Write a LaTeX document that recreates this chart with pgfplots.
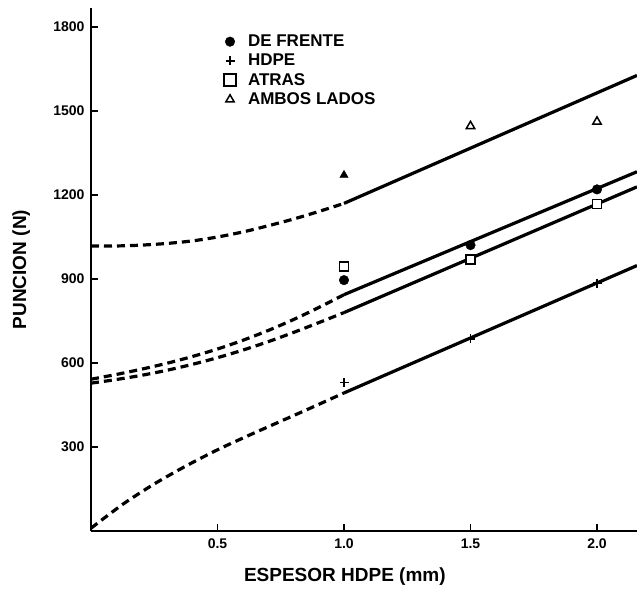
\documentclass[border=0pt]{standalone}
\usepackage{pgfplots}
\pgfplotsset{compat=1.18}
\usepackage{fontspec}
\setmainfont{Liberation Sans}
\begin{document}
\begin{tikzpicture}
\useasboundingbox (-91pt,-66pt) rectangle (546pt,531pt);
\begin{axis}[
  at={(0pt,0pt)}, anchor=origin,
  x=253pt, y=0.28pt,
  xmin=0, xmax=2.158, ymin=0, ymax=1868,
  axis lines=left, axis line style={-, line width=2.6pt},
  xtick={0.5,1,1.5,2}, xticklabels={0.5,1.0,1.5,2.0},
  ytick={300,600,900,1200,1500,1800}, yticklabels={300,600,900,1200,1500,1800},
  tick align=inside, major tick length=7pt, tick style={line width=1.8pt, black},
  /pgf/number format/assume math mode=true,
  ticklabel style={font=\fontsize{14}{16}\selectfont\bfseries},
  xticklabel style={yshift=-4pt},
  yticklabel style={xshift=-3pt},
  xlabel={ESPESOR HDPE (mm)}, ylabel={PUNCION (N)},
  label style={font=\fontsize{19}{22}\selectfont\bfseries},
  xlabel style={at={(axis description cs:0.465,-0.088)}, anchor=center},
  ylabel style={at={(axis description cs:-0.128,0.5)}, anchor=center},
  legend style={at={(axis cs:0.525,1779)}, anchor=north west, draw=none, fill=none,
    font=\fontsize{17}{19}\selectfont\bfseries, row sep=2pt, inner sep=0pt,
    /tikz/every odd column/.append style={column sep=10pt}},
  legend cell align=left,
  clip=true,
]
% AMBOS LADOS curve
\addplot[black, line width=3.2pt, dash pattern=on 8pt off 5pt, smooth, forget plot]
  coordinates {(0,1018)(0.1,1018)(0.2,1021)(0.3,1027)(0.4,1036)(0.5,1050)(0.6,1068)(0.7,1090)(0.8,1114)(0.9,1141)(1.0,1170)};
\addplot[black, line width=3.2pt, forget plot]
  coordinates {(1.0,1170)(2.158,1627)};
% DE FRENTE curve
\addplot[black, line width=3.2pt, dash pattern=on 8pt off 5pt, smooth, forget plot]
  coordinates {(0,542)(0.1,559)(0.2,578)(0.3,599)(0.4,623)(0.5,650)(0.6,681)(0.7,716)(0.8,755)(0.9,798)(1.0,844)};
\addplot[black, line width=3.2pt, forget plot]
  coordinates {(1.0,844)(2.158,1283)};
% ATRAS curve
\addplot[black, line width=3.2pt, dash pattern=on 8pt off 5pt, smooth, forget plot]
  coordinates {(0,528)(0.1,541)(0.2,556)(0.3,574)(0.4,595)(0.5,619)(0.6,646)(0.7,676)(0.8,709)(0.9,744)(1.0,780)};
\addplot[black, line width=3.2pt, forget plot]
  coordinates {(1.0,780)(2.158,1229)};
% HDPE curve
\addplot[black, line width=3.2pt, dash pattern=on 8pt off 5pt, smooth, forget plot]
  coordinates {(0,10)(0.125,95)(0.25,168)(0.375,232)(0.5,290)(0.625,342)(0.75,392)(0.875,442)(1.0,493)};
\addplot[black, line width=3.2pt, forget plot]
  coordinates {(1.0,493)(2.158,948)};
% data points
\addplot[only marks, mark=*, mark size=4.8pt, black]
  coordinates {(1,896)(1.5,1021)(2,1220)};
\addlegendentry{DE FRENTE}
\addplot[only marks, mark=+, mark size=4.5pt, black, line width=1.8pt]
  coordinates {(1,530)(1.5,686)(2,885)};
\addlegendentry{HDPE}
\addplot[only marks, mark=square*, mark size=4.5pt, black, line width=1.6pt, mark options={fill=white},
  legend image post style={mark size=6pt}]
  coordinates {(1,944)(1.5,970)(2,1168)};
\addlegendentry{ATRAS}
\addplot[only marks, mark=triangle*, mark size=4.8pt, black, line width=1.5pt, mark options={fill=white}]
  coordinates {(1.5,1446)(2,1462)};
\addlegendentry{AMBOS LADOS}
\addplot[only marks, mark=triangle*, mark size=4.8pt, black, forget plot]
  coordinates {(1,1271)};
\end{axis}
\end{tikzpicture}
\end{document}
